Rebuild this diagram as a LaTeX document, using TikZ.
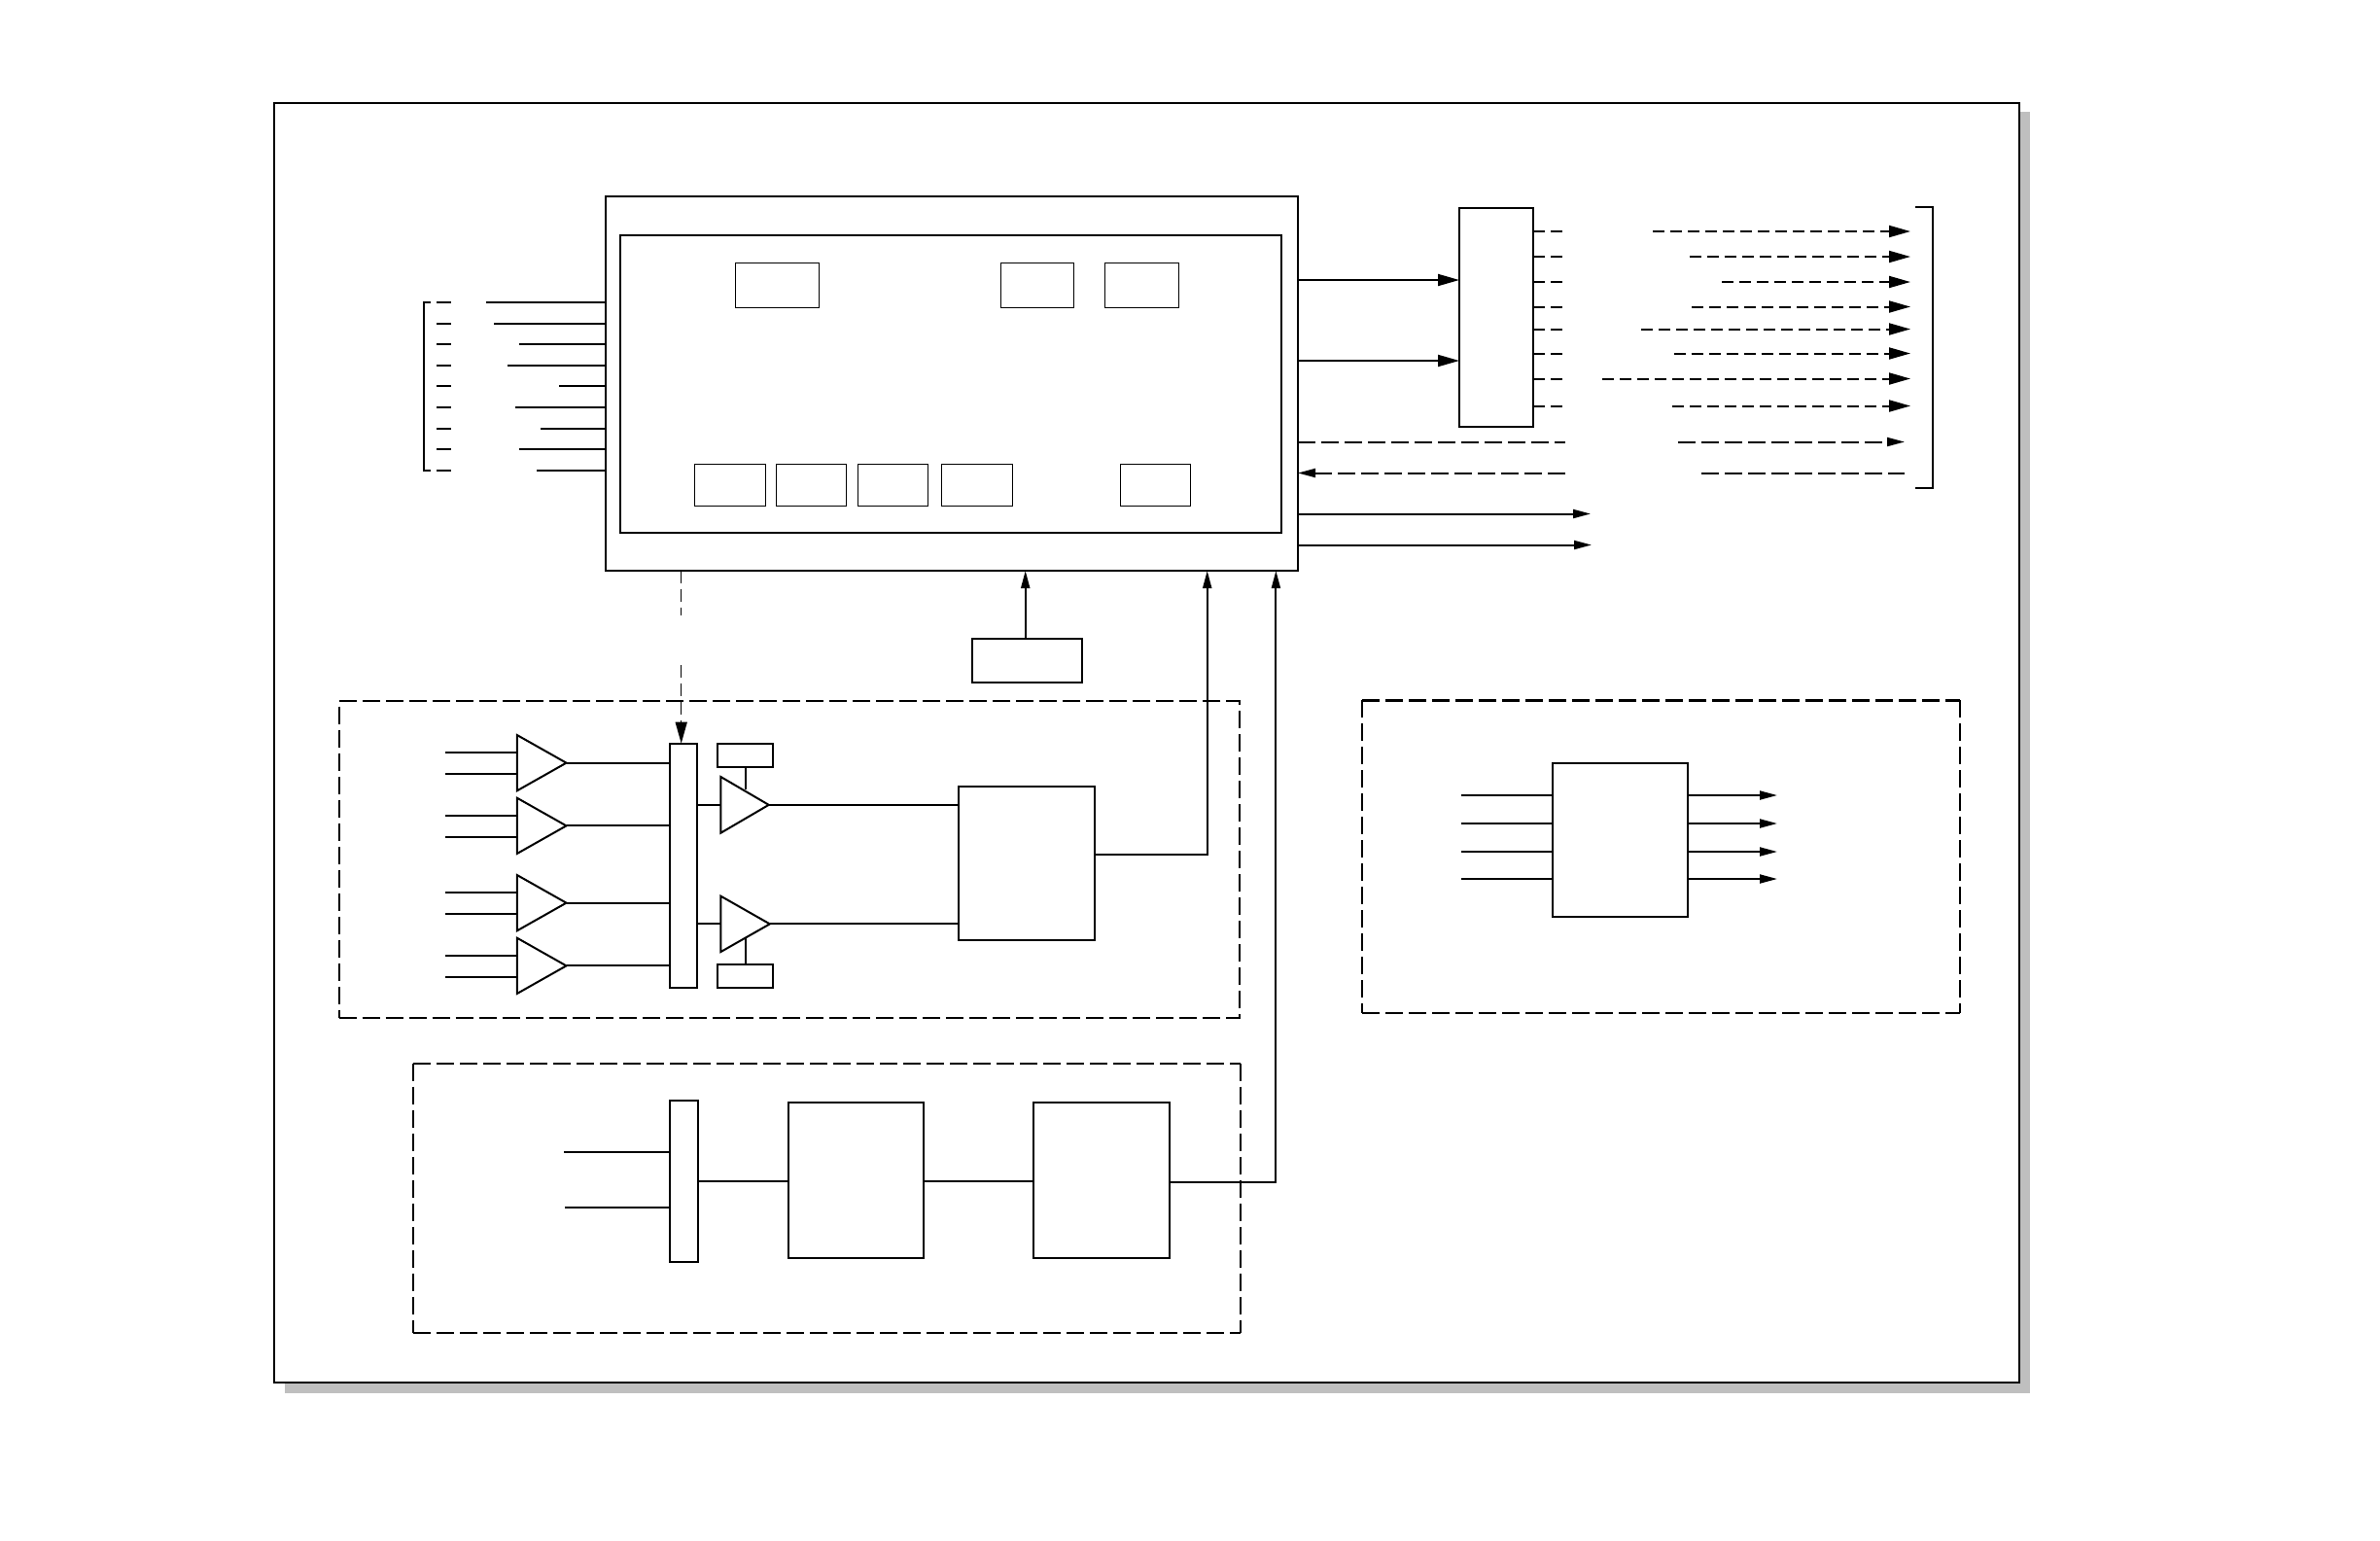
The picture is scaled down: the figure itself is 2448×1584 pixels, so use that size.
\documentclass[tikz,border=0pt]{standalone}
\usetikzlibrary{arrows.meta}
\definecolor{shadowgray}{HTML}{BFBFBF}
\newcommand{\bx}[6][]{%
  \pgfmathsetmacro\bxw{(#5-#3)*0.01}%
  \pgfmathsetmacro\bxh{(#6-#4)*0.01}%
  \node[boxbase,#1,minimum width=\bxw cm,minimum height=\bxh cm] (#2) at ({(#3+#5)/2},{(#4+#6)/2}) {};%
}
\newcommand{\amp}[5]{%
  \coordinate (#1-tip) at (#4,{(#3+#5)/2});%
  \coordinate (#1-in) at (#2,{(#3+#5)/2});%
  \draw[wire,line join=miter] (#2,#3) -- (#1-tip) -- (#2,#5) -- cycle;%
}
\tikzset{
  boxbase/.style={draw=black,fill=none,inner sep=0pt,outer sep=0pt,line width=.02cm},
  thinbox/.style={line width=.01cm},
  groupbox/.style={dash pattern=on .18cm off .06cm,line width=.02cm},
  groupframe/.style={draw=none},
  groupedge/.style={dash pattern=on .18cm off .06cm,line width=.02cm,draw=black},
  groupheavy/.style={dash pattern=on .18cm off .06cm,line width=.027cm,draw=black},
  wire/.style={line width=.02cm,draw=black},
  thinwire/.style={line width=.014cm,draw=black},
  dashS/.style={dash pattern=on .12cm off .06cm,line width=.02cm,draw=black},
  dashL/.style={dash pattern=on .18cm off .06cm,line width=.02cm,draw=black},
  tipB/.style={-{Triangle[length=.22cm,width=.12cm]}},
  tipM/.style={-{Triangle[length=.18cm,width=.09cm]}},
}
\begin{document}
\begin{tikzpicture}[x=.01cm,y=-.01cm]
\useasboundingbox (0,0) rectangle (2448,1584);
\fill[white] (0,0) rectangle (2448,1584);
% frame and shadow
\fill[shadowgray] (293,115) rectangle (2088,1432.5);
\bx[fill=white]{frame}{282}{106}{2077}{1421.7}

% main block
\bx{main}{623}{202}{1335}{587}
\bx{inner}{638}{242}{1318}{548}
\bx[thinbox]{ta}{756.5}{270.5}{842}{316.5}
\bx[thinbox]{tb}{1029}{270.5}{1104.5}{316.5}
\bx[thinbox]{tc}{1136.5}{270.5}{1212}{316.5}
\bx[thinbox]{ba}{714}{477}{787}{520.5}
\bx[thinbox]{bb}{798}{477}{870.5}{520.5}
\bx[thinbox]{bc}{882.5}{477}{954.5}{520.5}
\bx[thinbox]{bd}{968}{477}{1041}{520.5}
\bx[thinbox]{be}{1152.5}{477}{1224}{520.5}

% left bus
\draw[wire] (443,311) -- (435.7,311) -- (435.7,484) -- (443,484);
\foreach \y/\x in {311/500,333/508,354/534,376/522,397/575,419/530,441/556,462/534,484/552}{
  \coordinate (ls) at (449,\y);
  \coordinate (le) at (464,\y);
  \coordinate (ln) at (\x,\y);
  \draw[wire] (ls) -- (le);
  \draw[wire] (ln) -- (main.west |- ln);
}

% decoder on the right
\bx{dec}{1501}{213.7}{1577}{439}
\coordinate (da) at (1501,288);
\coordinate (db) at (1501,371);
\draw[wire,tipB] (main.east |- da) -- (dec.west |- da);
\draw[wire,tipB] (main.east |- db) -- (dec.west |- db);
\foreach \y/\x in {238/1700,264/1737.6,290/1771,315.5/1740,338.5/1688,363.5/1721.5,389.5/1648,417.5/1720}{
  \coordinate (os) at (1610,\y);
  \coordinate (rs) at (\x,\y);
  \coordinate (re) at (1965,\y);
  \draw[dashS] (dec.east |- os) -- (os);
  \draw[dashS,tipB] (rs) -- (re);
}
\coordinate (pa) at (1610,454.5);
\coordinate (pb) at (1610,486.5);
\coordinate (qa) at (1726,454.5);
\coordinate (qb) at (1959,454.5);
\coordinate (qc) at (1750,487);
\coordinate (qd) at (1959,487);
\draw[dashL] (main.east |- pa) -- (pa);
\draw[dashL,tipM] (pb) -- (main.east |- pb);
\draw[dashL,tipM] (qa) -- (qb);
\draw[dashL] (qc) -- (qd);
\coordinate (sa) at (1636,528.5);
\coordinate (sb) at (1637,560.5);
\draw[wire,tipM] (main.east |- sa) -- (sa);
\draw[wire,tipM] (main.east |- sb) -- (sb);
\draw[wire] (1970,212.7) -- (1988,212.7) -- (1988,501.7) -- (1970,501.7);

\begin{scope}[yshift=-.01cm]
% clock block
\bx{clk}{999.7}{656.4}{1113}{701}
\coordinate (ck) at (1054.7,656.4);
\draw[wire,tipM] (clk.north -| ck) -- (main.south -| ck);

% group A
\bx[groupbox]{groupA}{348.6}{720}{1275.3}{1046}
\bx{muxA}{688.6}{763.7}{717}{1015}
\bx{refa}{737.9}{763.7}{795}{788.3}
\bx{refb}{737.9}{991}{795}{1015}
\bx{adc}{986}{807.5}{1126.3}{966}
\amp{t1}{531.8}{755}{582.5}{812.3}
\amp{t2}{531.8}{819.7}{582.5}{877}
\amp{t3}{531.8}{899}{582.5}{956.3}
\amp{t4}{531.8}{963.7}{582.5}{1021}
\amp{t5}{741.4}{798}{790.7}{855.7}
\amp{t6}{741.4}{920.7}{791.8}{978}
\foreach \n/\ya/\yb in {t1/772.7/795,t2/838/860,t3/917/939,t4/982/1004}{
  \coordinate (ia) at (457.9,\ya);
  \coordinate (ib) at (457.9,\yb);
  \coordinate (ja) at (531.8,\ya);
  \coordinate (jb) at (531.8,\yb);
  \draw[wire] (ia) -- (ja);
  \draw[wire] (ib) -- (jb);
  \draw[wire] (\n-tip) -- (muxA.west |- \n-tip);
}
\draw[wire] (muxA.east |- t5-in) -- (t5-in);
\draw[wire] (muxA.east |- t6-in) -- (t6-in);
\draw[wire] (t5-tip) -- (adc.west |- t5-tip);
\draw[wire] (t6-tip) -- (adc.west |- t6-tip);
\coordinate (ra) at (767,811);
\coordinate (rb) at (767,964);
\draw[wire] (refa.south -| ra) -- (ra);
\draw[wire] (refb.north -| rb) -- (rb);
\coordinate (ctla) at (700.7,632);
\coordinate (ctlb) at (700.7,683);
\draw[thinwire,dash pattern=on .13cm off .06cm] (main.south -| ctla) -- (ctla);
\draw[thinwire,dash pattern=on .13cm off .06cm,tipB] (ctlb) -- (muxA.north -| ctlb);
\coordinate (ja) at (1241.7,878);
\draw[wire,tipM] (adc.east |- ja) -- (ja) -- (main.south -| ja);

% group B
\bx[groupframe]{groupB}{425}{1092.7}{1276}{1370}
\draw[groupedge] (groupB.north west) -- (groupB.north east);
\draw[groupedge] (groupB.north east) -- (groupB.south east);
\draw[groupedge] (groupB.north west) -- (groupB.south west);
\draw[groupheavy] (groupB.south west) -- (groupB.south east);
\bx{muxB}{689}{1130.7}{718.4}{1297}
\bx{fa}{811}{1133}{950}{1292.7}
\bx{fb}{1063}{1133}{1202.5}{1292.7}
\coordinate (ua) at (580,1184);
\coordinate (ub) at (581,1241);
\coordinate (uc) at (718.4,1213.7);
\coordinate (ud) at (1312.4,1215);
\draw[wire] (ua) -- (muxB.west |- ua);
\draw[wire] (ub) -- (muxB.west |- ub);
\draw[wire] (muxB.east |- uc) -- (fa.west |- uc);
\draw[wire] (fa.east |- uc) -- (fb.west |- uc);
\draw[wire,tipM] (fb.east |- ud) -- (ud) -- (main.south -| ud);

% group C
\bx[groupframe]{groupC}{1401}{719.3}{2016}{1041}
\draw[groupheavy] (groupC.north west) -- (groupC.north east);
\draw[groupedge] (groupC.north east) -- (groupC.south east);
\draw[groupedge] (groupC.north west) -- (groupC.south west);
\draw[groupedge] (groupC.south west) -- (groupC.south east);
\bx{reg}{1596.8}{783.7}{1736}{942}
\foreach \y in {817,846,875,903}{
  \coordinate (va) at (1503,\y);
  \coordinate (vb) at (1828,\y);
  \draw[wire] (va) -- (reg.west |- va);
  \draw[wire,tipM] (reg.east |- vb) -- (vb);
}
\end{scope}
\end{tikzpicture}
\end{document}
